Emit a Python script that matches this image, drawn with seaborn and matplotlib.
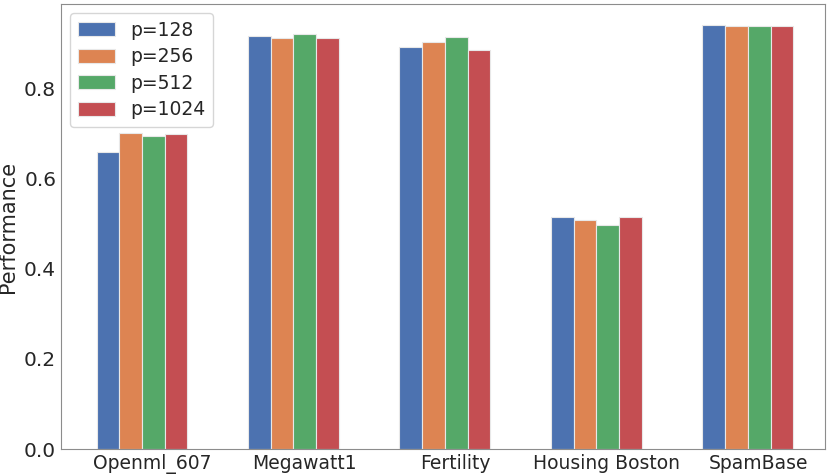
import pandas as pd
import matplotlib
matplotlib.use('Agg')
import matplotlib.pyplot as plt
import seaborn as sns

datasets = ['Openml_607', 'Megawatt1', 'Fertility', 'Housing Boston', 'SpamBase']
p_labels = ['p=128', 'p=256', 'p=512', 'p=1024']
perf_128 = [0.660, 0.916, 0.893, 0.515, 0.941]
perf_256 = [0.702, 0.912, 0.904, 0.508, 0.938]
perf_512 = [0.695, 0.921, 0.915, 0.497, 0.938]
perf_1024 = [0.700, 0.912, 0.886, 0.515, 0.938]

rows = []
for lab, vals in zip(p_labels, [perf_128, perf_256, perf_512, perf_1024]):
    for d, v in zip(datasets, vals):
        rows.append({'dataset': d, 'p': lab, 'Performance': v})
df = pd.DataFrame(rows)

sns.set_style('white')
fig = plt.figure(figsize=(8.3, 4.75), dpi=100)
ax = fig.add_axes([0.0735, 0.0547, 0.9205, 0.937])
sns.barplot(data=df, x='dataset', y='Performance', hue='p', hue_order=p_labels,
            order=datasets, palette='deep', width=0.6, saturation=1,
            edgecolor='#e8e8e8', linewidth=0.8, ax=ax)
ax.set_xlabel('')
ax.set_ylabel('Performance', fontsize=15)
# labels in the original sit slightly right of the group centres
ax.set_xticks([i + 0.07 for i in range(len(datasets))])
ax.set_xticklabels(datasets)
ax.tick_params(axis='x', labelsize=13.5, length=0)
ax.tick_params(axis='y', labelsize=14.5, length=0)
ax.set_yticks([0.0, 0.2, 0.4, 0.6, 0.8])
ax.set_ylim(0, 0.988)
ax.set_xlim(-0.535, 4.51)
for s in ax.spines.values():
    s.set_color('0.55')
ax.legend(loc='upper left', fontsize=13.5, handlelength=2.0, handleheight=0.8,
          borderpad=0.4, labelspacing=0.4, handletextpad=0.8)
fig.savefig('out.png', dpi=100)
